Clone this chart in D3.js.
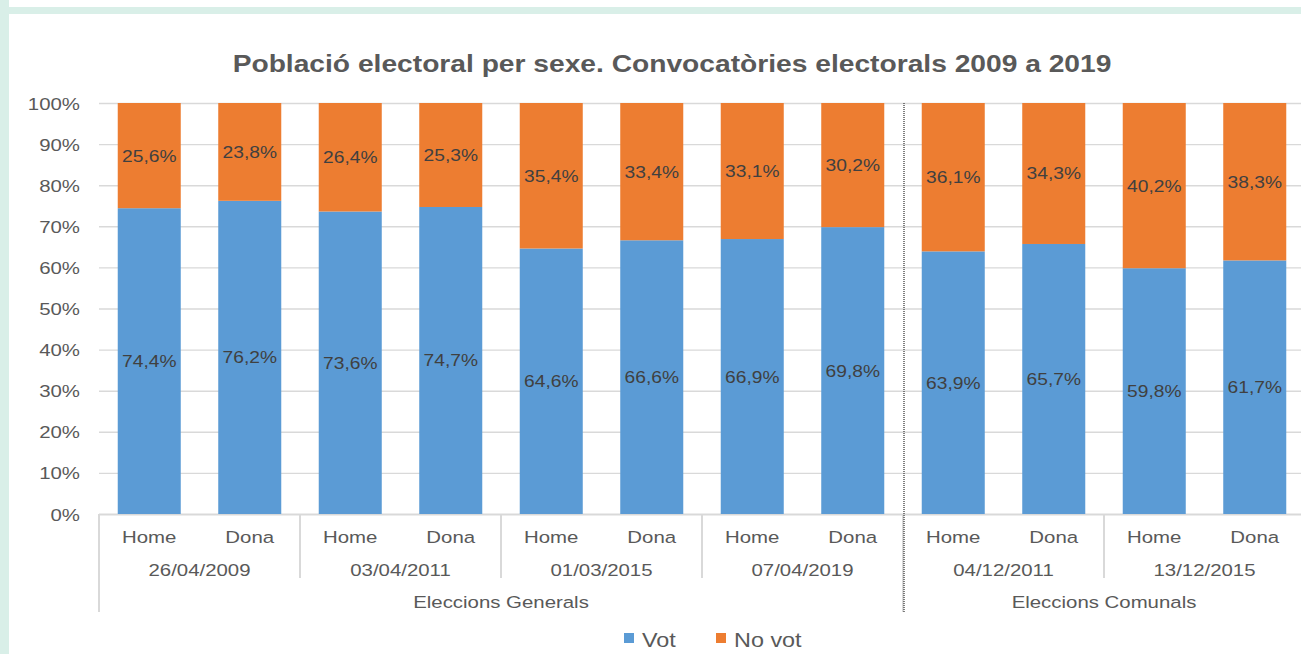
<!DOCTYPE html>
<html>
<head>
<meta charset="utf-8">
<script src="https://cdn.jsdelivr.net/npm/d3@7"></script>
<style>
  html, body { margin: 0; padding: 0; background: #d9efe8; }
  svg { display: block; font-family: "Liberation Sans", Arial, sans-serif; }
</style>
</head>
<body>
<div id="chart"></div>
<script>
// chart data
var title = 'Població electoral per sexe. Convocatòries electorals 2009 a 2019';
var sexes = ['Home', 'Dona'];
var dates = ['26/04/2009', '03/04/2011', '01/03/2015', '07/04/2019', '04/12/2011', '13/12/2015'];
var groups = ['Eleccions Generals', 'Eleccions Comunals'];
var groupSizes = [4, 2];
var vot = [74.4, 76.2, 73.6, 74.7, 64.6, 66.6, 66.9, 69.8, 63.9, 65.7, 59.8, 61.7];
var noVot = [25.6, 23.8, 26.4, 25.3, 35.4, 33.4, 33.1, 30.2, 36.1, 34.3, 40.2, 38.3];
var seriesNames = ['Vot', 'No vot'];
var yTicks = [0, 10, 20, 30, 40, 50, 60, 70, 80, 90, 100];

var W = 1301, H = 654;
var colors = ['#5b9bd5', '#ed7d31'];
var sx = 1.2; // text in the picture is drawn slightly wide

var svg = d3.select('#chart').append('svg')
  .attr('width', W)
  .attr('height', H);

// white panels over the mint page
svg.append('rect').attr('x', 9).attr('y', 0).attr('width', W - 9).attr('height', 7).attr('fill', '#fff');
svg.append('rect').attr('x', 9).attr('y', 14).attr('width', W - 9).attr('height', H - 14).attr('fill', '#fff');

var cats = [];
dates.forEach(function(d, i){
  sexes.forEach(function(s, j){
    cats.push({ key: i * 2 + j, sex: s, date: d, vot: vot[i * 2 + j], noVot: noVot[i * 2 + j] });
  });
});

var x = d3.scaleBand()
  .domain(cats.map(function(d){ return d.key; }))
  .range([99, 1305])
  .paddingInner(0.373)
  .paddingOuter(0.1865);

var y = d3.scaleLinear().domain([0, 100]).range([514, 103]);

var step = x.step();
var edge = function(k){ return x(k) - step * x.paddingInner() / 2; };

// gridlines + y labels
var yAxis = svg.append('g')
  .attr('transform', 'translate(99,0)')
  .call(d3.axisLeft(y).tickValues(yTicks).tickSize(0).tickPadding(0).tickFormat(function(d){ return d + '%'; }));
yAxis.select('.domain').remove();
yAxis.selectAll('.tick line')
  .attr('x2', W - 99)
  .attr('stroke', '#d9d9d9')
  .attr('stroke-width', function(d){ return d === 0 ? 2 : 1.4; });
yAxis.selectAll('.tick text')
  .attr('x', null)
  .attr('dy', null)
  .attr('transform', 'translate(-19,6) scale(' + sx + ',1)')
  .attr('fill', '#595959')
  .attr('font-size', 17)
  .attr('font-family', '"Liberation Sans", Arial, sans-serif');

// stacked bars
var stack = d3.stack().keys(['vot', 'noVot'])(cats);
var layer = svg.selectAll('g.layer')
  .data(stack)
  .enter()
  .append('g')
  .attr('class', 'layer')
  .attr('fill', function(d, i){ return colors[i]; });

layer.selectAll('rect')
  .data(function(d){ return d; })
  .enter()
  .append('rect')
  .attr('x', function(d){ return x(d.data.key); })
  .attr('y', function(d){ return y(d[1]); })
  .attr('width', x.bandwidth())
  .attr('height', function(d){ return y(d[0]) - y(d[1]); });

layer.selectAll('text')
  .data(function(d){ return d; })
  .enter()
  .append('text')
  .attr('text-anchor', 'middle')
  .attr('font-size', 16)
  .attr('fill', '#404040')
  .attr('transform', function(d){
    var cx = x(d.data.key) + x.bandwidth() / 2;
    var cy = y((d[0] + d[1]) / 2) + 6;
    return 'translate(' + cx + ',' + cy + ') scale(' + sx + ',1)';
  })
  .text(function(d){ return d3.format('.1f')(d[1] - d[0]).replace('.', ',') + '%'; });

// category axis separators
var lines = svg.append('g').attr('stroke', '#d9d9d9').attr('stroke-width', 2);
var start = 0;
groupSizes.forEach(function(n, gi){
  lines.append('line')
    .attr('x1', edge(start * 2)).attr('x2', edge(start * 2))
    .attr('y1', 514).attr('y2', 612);
  for (var k = 1; k < n; k++) {
    var xx = edge((start + k) * 2);
    lines.append('line').attr('x1', xx).attr('x2', xx).attr('y1', 514).attr('y2', 578);
  }
  start += n;
});

// dotted divider between the two election types
var divX = edge(groupSizes[0] * 2) + 1;
svg.append('line')
  .attr('x1', divX).attr('x2', divX)
  .attr('y1', 103).attr('y2', 613)
  .attr('stroke', '#555')
  .attr('stroke-width', 1.5)
  .attr('stroke-dasharray', '1,1');

var axisText = function(sel){
  sel.attr('text-anchor', 'middle')
    .attr('font-size', 17)
    .attr('fill', '#595959');
};

svg.append('g').selectAll('text')
  .data(cats)
  .enter()
  .append('text')
  .call(axisText)
  .attr('transform', function(d){ return 'translate(' + (x(d.key) + x.bandwidth() / 2) + ',543) scale(' + sx + ',1)'; })
  .text(function(d){ return d.sex; });

svg.append('g').selectAll('text')
  .data(dates)
  .enter()
  .append('text')
  .call(axisText)
  .attr('transform', function(d, i){ return 'translate(' + (edge(i * 2) + step) + ',576) scale(' + sx + ',1)'; })
  .text(function(d){ return d; });

var gStart = 0;
groups.forEach(function(g, gi){
  var x0 = edge(gStart * 2), x1 = edge((gStart + groupSizes[gi]) * 2 - 1) + step;
  svg.append('text')
    .call(axisText)
    .attr('transform', 'translate(' + ((x0 + x1) / 2) + ',608) scale(' + sx + ',1)')
    .text(g);
  gStart += groupSizes[gi];
});

// title
svg.append('text')
  .attr('text-anchor', 'middle')
  .attr('font-size', 23.5)
  .attr('font-weight', 'bold')
  .attr('fill', '#595959')
  .attr('transform', 'translate(672,72) scale(' + sx + ',1)')
  .text(title);

// legend
var legendX = [624, 716];
var legend = svg.append('g').selectAll('g')
  .data(seriesNames)
  .enter()
  .append('g')
  .attr('transform', function(d, i){ return 'translate(' + legendX[i] + ',633)'; });
legend.append('rect')
  .attr('width', 10).attr('height', 10)
  .attr('fill', function(d, i){ return colors[i]; });
legend.append('text')
  .attr('font-size', 19.5)
  .attr('fill', '#595959')
  .attr('transform', 'translate(18,14) scale(' + sx + ',1)')
  .text(function(d){ return d; });
</script>
</body>
</html>
